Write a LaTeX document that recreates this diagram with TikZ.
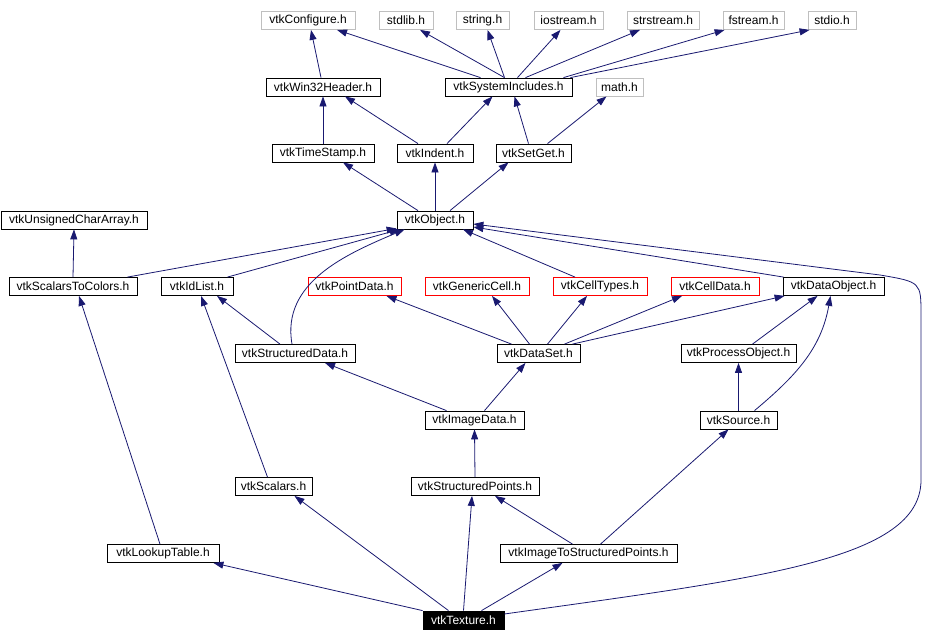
\documentclass[tikz,border=0pt]{standalone}
\usepackage{fontspec}
\setmainfont{Liberation Sans}
\usetikzlibrary{arrows.meta}
\definecolor{EdgeBlue}{RGB}{25,25,112}
\definecolor{SysGray}{RGB}{191,191,191}
\definecolor{NoDocRed}{RGB}{255,0,0}
\tikzset{
  hdr/.style={draw=black,fill=white,line width=0.8pt,minimum height=18pt,
    inner sep=0pt,font=\fontsize{12}{12}\selectfont},
  syshdr/.style={hdr,draw=SysGray},
  nodoc/.style={hdr,draw=NoDocRed},
  root/.style={hdr,fill=black,text=white},
  dep/.style={-{Triangle[length=10pt,width=7pt]},line width=0.8pt,EdgeBlue}
}

\begin{document}
\begin{tikzpicture}[x=1pt,y=-1pt]
  \useasboundingbox (0,0) rectangle (937,642);

  % system headers
  \node[syshdr,minimum width=94] (cfg) at (308,20.5) {vtkConfigure.h};
  \node[syshdr,minimum width=54] (stdlib) at (406,20.5) {stdlib.h};
  \node[syshdr,minimum width=53] (string) at (482.5,20.5) {string.h};
  \node[syshdr,minimum width=69] (iostream) at (568.5,20.5) {iostream.h};
  \node[syshdr,minimum width=72] (strstream) at (663,20.5) {strstream.h};
  \node[syshdr,minimum width=61] (fstream) at (753.5,20.5) {fstream.h};
  \node[syshdr,minimum width=48] (stdio) at (832,20.5) {stdio.h};

  \node[hdr,minimum width=114] (win32) at (323,87) {vtkWin32Header.h};
  \node[hdr,minimum width=127] (sysinc) at (508.5,87) {vtkSystemIncludes.h};
  \node[syshdr,minimum width=47] (math) at (619.5,87) {math.h};

  \node[hdr,minimum width=102] (tstamp) at (323,153) {vtkTimeStamp.h};
  \node[hdr,minimum width=76] (indent) at (435,153) {vtkIndent.h};
  \node[hdr,minimum width=75] (setget) at (533.5,153) {vtkSetGet.h};

  \node[hdr,minimum width=146] (ucarr) at (74,220) {vtkUnsignedCharArray.h};
  \node[hdr,minimum width=76] (object) at (435,220) {vtkObject.h};

  % data model headers
  \node[hdr,minimum width=128] (s2c) at (73,286.5) {vtkScalarsToColors.h};
  \node[hdr,minimum width=72] (idlist) at (197,286.5) {vtkIdList.h};
  \node[nodoc,minimum width=93] (ptdata) at (354.5,286.5) {vtkPointData.h};
  \node[nodoc,minimum width=104] (gencell) at (477,286.5) {vtkGenericCell.h};
  \node[nodoc,minimum width=94] (celltypes) at (600,286.5) {vtkCellTypes.h};
  \node[nodoc,minimum width=88] (celldata) at (715,286.5) {vtkCellData.h};
  \node[hdr,minimum width=101] (dataobj) at (833.5,286.5) {vtkDataObject.h};

  \node[hdr,minimum width=120] (strdata) at (295,353.5) {vtkStructuredData.h};
  \node[hdr,minimum width=83] (dataset) at (538.5,353.5) {vtkDataSet.h};
  \node[hdr,minimum width=115] (procobj) at (738.5,353.5) {vtkProcessObject.h};

  \node[hdr,minimum width=99] (imgdata) at (474.5,420) {vtkImageData.h};
  \node[hdr,minimum width=77] (source) at (738.5,420) {vtkSource.h};

  \node[hdr,minimum width=77] (scalars) at (273.5,486.5) {vtkScalars.h};
  \node[hdr,minimum width=128] (strpts) at (475,486.5) {vtkStructuredPoints.h};

  \node[hdr,minimum width=112] (lut) at (163,553.5) {vtkLookupTable.h};
  \node[hdr,minimum width=177] (img2sp) at (588.5,553.5) {vtkImageToStructuredPoints.h};

  \node[root,minimum width=81] (texture) at (463.5,620) {vtkTexture.h};

  % includes of the top rows
  \draw[dep] ([xshift=-2]win32.north) -- ([xshift=3]cfg.south);
  \draw[dep] ([xshift=-28]sysinc.north) -- ([xshift=29]cfg.south);
  \draw[dep] ([xshift=-4]sysinc.north) -- ([xshift=14]stdlib.south);
  \draw[dep] ([xshift=-4]sysinc.north) -- ([xshift=5]string.south);
  \draw[dep] ([xshift=9]sysinc.north) -- ([xshift=-8]iostream.south);
  \draw[dep] ([xshift=17]sysinc.north) -- ([xshift=-23]strstream.south);
  \draw[dep] ([xshift=55]sysinc.north) -- ([xshift=2]fstream.south west);
  \draw[dep] ([xshift=-2]sysinc.north east) -- ([xshift=2]stdio.south west);
  \draw[dep] (tstamp.north) -- (win32.south);
  \draw[dep] ([xshift=-17]indent.north) -- ([xshift=22]win32.south);
  \draw[dep] ([xshift=12]indent.north) -- ([xshift=-16]sysinc.south);
  \draw[dep] ([xshift=-5]setget.north) -- ([xshift=6]sysinc.south);
  \draw[dep] ([xshift=14]setget.north) -- ([xshift=-13]math.south);
  \draw[dep] ([xshift=-17]object.north) -- ([xshift=20]tstamp.south);
  \draw[dep] (object.north) -- (indent.south);
  \draw[dep] ([xshift=15]object.north) -- ([xshift=-25]setget.south);

  % into vtkObject.h
  \draw[dep] (s2c.north) -- (ucarr.south);
  \draw[dep] ([xshift=-10]s2c.north east) -- ([yshift=1]object.south west);
  \draw[dep] ([xshift=-6]idlist.north east) -- ([xshift=3]object.south west);
  \draw[dep] ([xshift=-3]strdata.north) to[out=100,in=-157] ([xshift=8]object.south west);
  \draw[dep] ([xshift=-25]celltypes.north) -- ([xshift=28]object.south);
  \draw[dep] ([xshift=1]dataobj.north west) -- ([yshift=-7]object.east);
  \draw[dep] ([yshift=6]texture.east) .. controls (760,578) and (921,560) .. (921,480)
    -- (921,315) .. controls (921,282) .. (880,275) -- ([yshift=-4]object.east);

  % lower rows
  \draw[dep] ([xshift=-15]strdata.north) -- ([xshift=20]idlist.south);
  \draw[dep] ([xshift=-6]scalars.north) -- ([xshift=4]idlist.south);
  \draw[dep] ([xshift=-3]lut.north) -- ([xshift=6]s2c.south);
  \draw[dep] ([xshift=-27]dataset.north) -- ([xshift=32]ptdata.south);
  \draw[dep] ([xshift=-9]dataset.north) -- ([xshift=15]gencell.south);
  \draw[dep] ([xshift=9]dataset.north) -- ([xshift=-13]celltypes.south);
  \draw[dep] ([xshift=26]dataset.north) -- ([xshift=-33]celldata.south);
  \draw[dep] ([xshift=-8]dataset.north east) -- ([xshift=2]dataobj.south west);
  \draw[dep] ([xshift=14]procobj.north) -- ([xshift=-16]dataobj.south);
  \draw[dep] ([xshift=16]source.north) to[out=40,in=-100] ([xshift=-3]dataobj.south);
  \draw[dep] (source.north) -- (procobj.south);
  \draw[dep] ([xshift=-28]imgdata.north) -- ([xshift=30]strdata.south);
  \draw[dep] ([xshift=10]imgdata.north) -- ([xshift=-13]dataset.south);
  \draw[dep] (strpts.north) -- (imgdata.south);
  \draw[dep] ([xshift=-16]img2sp.north) -- ([xshift=20]strpts.south);
  \draw[dep] ([xshift=12]img2sp.north) -- ([xshift=-10]source.south);
  \draw[dep] (texture.north west) -- ([xshift=-6]lut.south east);
  \draw[dep] ([xshift=-15]texture.north) -- ([xshift=21]scalars.south);
  \draw[dep] (texture.north) -- ([xshift=-3]strpts.south);
  \draw[dep] ([xshift=18]texture.north) -- ([xshift=-26]img2sp.south);
\end{tikzpicture}
\end{document}
